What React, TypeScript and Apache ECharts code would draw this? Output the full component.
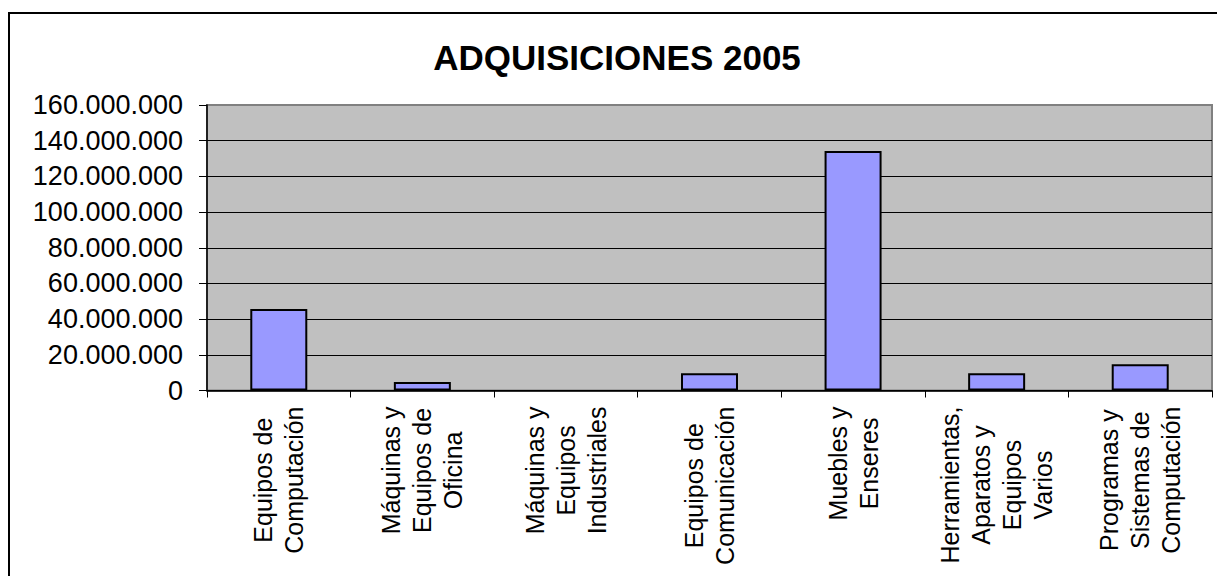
import React, { useEffect, useRef } from "react";
import * as echarts from "echarts";

const titleText = "ADQUISICIONES 2005";
const categories = [
  "Equipos de\nComputación",
  "Máquinas y\nEquipos de\nOficina",
  "Máquinas y\nEquipos\nIndustriales",
  "Equipos de\nComunicación",
  "Muebles y\nEnseres",
  "Herramientas,\nAparatos y\nEquipos\nVarios",
  "Programas y\nSistemas de\nComputación",
];
const values = [45700000, 4800000, 0, 9600000, 134200000, 9600000, 14700000];
const yMin = 0;
const yMax = 160000000;
const yInterval = 20000000;

const FONT = "'Liberation Sans', Arial, sans-serif";

function fmt(v: number): string {
  return String(Math.round(v)).replace(/\B(?=(\d{3})+(?!\d))/g, ".");
}

export default function App() {
  const ref = useRef<HTMLDivElement>(null);
  useEffect(() => {
    if (!ref.current) return;
    const chart = echarts.init(ref.current, undefined, { renderer: "svg" });
    const splitColors = [] as string[];
    const n = Math.round((yMax - yMin) / yInterval);
    for (let i = 0; i < n; i++) splitColors.push("#000000");
    splitColors.push("#808080");
    chart.setOption({
      animation: false,
      backgroundColor: "#ffffff",
      title: {
        text: titleText,
        left: 617,
        top: 40,
        textAlign: "center",
        padding: 0,
        textStyle: { fontFamily: FONT, fontSize: 35, fontWeight: "bold", color: "#000" },
      },
      graphic: [
        {
          type: "rect",
          shape: { x: 9, y: 13, width: 1400, height: 800 },
          style: { fill: "none", stroke: "#000", lineWidth: 2 },
          silent: true,
          z: 100,
        },
      ],
      grid: {
        left: 207,
        right: 5,
        top: 105,
        bottom: 185.5,
        show: true,
        backgroundColor: "#c0c0c0",
        borderColor: "#808080",
        borderWidth: 2,
      },
      xAxis: {
        type: "category",
        data: categories,
        axisLine: { lineStyle: { color: "#000", width: 1.5 } },
        axisTick: { show: true, length: 7, lineStyle: { color: "#000", width: 1 } },
        axisLabel: {
          rotate: 90,
          margin: 16,
          interval: 0,
          formatter: (v: string) => v.split("\n").map((l) => `{c|${l}}`).join("\n"),
          rich: {
            c: { align: "center", fontFamily: FONT, fontSize: 25, lineHeight: 31, color: "#000" },
          },
        },
        splitLine: { show: false },
      },
      yAxis: {
        type: "value",
        min: yMin,
        max: yMax,
        interval: yInterval,
        axisLine: { show: true, lineStyle: { color: "#000", width: 1.5 } },
        axisTick: { show: true, length: 8, lineStyle: { color: "#000", width: 1 } },
        axisLabel: {
          margin: 24,
          fontFamily: FONT,
          fontSize: 27,
          color: "#000",
          formatter: (v: number) => fmt(v),
        },
        splitLine: { show: true, lineStyle: { color: splitColors, width: 1 } },
      },
      series: [
        {
          type: "bar",
          data: values.map((v) => ({
            value: v,
            itemStyle: { borderWidth: v === 0 ? 0 : 2 },
          })),
          barWidth: 57,
          itemStyle: { color: "#9999ff", borderColor: "#000", borderWidth: 2 },
        },
      ],
    });
    return () => chart.dispose();
  }, []);
  return (
    <div
      ref={ref}
      style={{ position: "absolute", left: 0, top: 0, width: 1217, height: 576 }}
    />
  );
}
